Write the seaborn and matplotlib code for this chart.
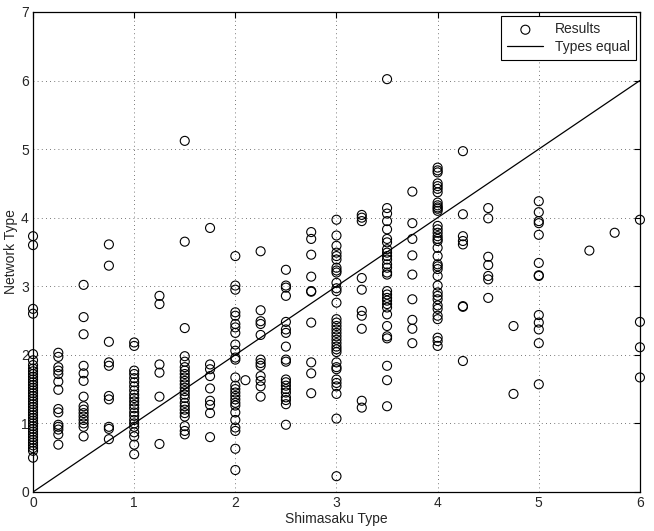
import pandas as pd
import matplotlib
matplotlib.use("Agg")
import matplotlib.pyplot as plt
import seaborn as sns

# Shimasaku type columns and network type values
y_at_000 = [3.73, 3.6, 2.67, 2.6, 2.01, 1.92, 1.85, 1.8, 1.76, 1.72, 1.68, 1.64, 1.6, 1.56,
            1.52, 1.48, 1.44, 1.4, 1.36, 1.32, 1.28, 1.24, 1.2, 1.16, 1.12, 1.08, 1.04, 1.0,
            0.96, 0.92, 0.88, 0.84, 0.8, 0.76, 0.72, 0.68, 0.64, 0.6, 0.5]
y_at_025 = [2.03, 1.97, 1.82, 1.77, 1.72, 1.61, 1.49, 1.21, 1.16, 0.98, 0.95, 0.91, 0.84, 0.69]
y_at_050 = [3.02, 2.55, 2.3, 1.84, 1.73, 1.62, 1.39, 1.25, 1.2, 1.15, 1.1, 1.05, 1.0, 0.95, 0.81]
y_at_075 = [3.61, 3.3, 2.19, 1.89, 1.84, 1.4, 1.35, 0.95, 0.92, 0.77]
y_at_100 = [2.18, 2.13, 1.77, 1.72, 1.66, 1.6, 1.54, 1.48, 1.42, 1.37, 1.32, 1.27, 1.22,
            1.16, 1.11, 1.05, 1.0, 0.95, 0.87, 0.81, 0.69, 0.55]
y_at_125 = [2.86, 2.74, 1.86, 1.74, 1.39, 0.70]
y_at_150 = [5.12, 3.65, 2.39, 1.98, 1.9, 1.82, 1.77, 1.72, 1.67, 1.62, 1.57, 1.52, 1.47,
            1.42, 1.37, 1.3, 1.25, 1.2, 1.15, 1.1, 0.96, 0.89, 0.84]
y_at_175 = [3.85, 1.86, 1.79, 1.69, 1.51, 1.33, 1.27, 1.15, 0.80]
y_at_200 = [3.44, 3.01, 2.95, 2.62, 2.57, 2.45, 2.4, 2.32, 2.15, 2.06, 1.96, 1.93, 1.67,
            1.55, 1.5, 1.45, 1.4, 1.35, 1.3, 1.26, 1.16, 1.05, 0.94, 0.89, 0.63, 0.32]
y_at_210 = [1.63]
y_at_225 = [3.51, 2.65, 2.49, 2.45, 2.29, 1.93, 1.88, 1.84, 1.69, 1.62, 1.54, 1.39]
y_at_250 = [3.24, 3.01, 2.98, 2.86, 2.48, 2.37, 2.32, 2.12, 1.93, 1.9, 1.64, 1.6, 1.55,
            1.5, 1.45, 1.38, 1.34, 1.28, 0.98]
y_at_275 = [3.79, 3.69, 3.46, 3.14, 2.93, 2.92, 2.47, 1.89, 1.73, 1.44]
y_at_300 = [3.97, 3.74, 3.59, 3.49, 3.44, 3.39, 3.27, 3.23, 3.2, 3.05, 2.97, 2.93, 2.76,
            2.52, 2.47, 2.42, 2.37, 2.32, 2.27, 2.22, 2.17, 2.12, 2.08, 2.04, 1.89, 1.82,
            1.79, 1.64, 1.59, 1.54, 1.43, 1.07, 0.23]
y_at_325 = [4.04, 4.0, 3.95, 3.12, 2.95, 2.64, 2.57, 2.38, 1.33, 1.23]
y_at_350 = [6.02, 4.14, 4.06, 3.95, 3.83, 3.69, 3.64, 3.54, 3.49, 3.44, 3.39, 3.32, 3.27,
            3.2, 3.17, 2.93, 2.88, 2.83, 2.79, 2.74, 2.69, 2.59, 2.42, 2.27, 2.24, 1.84,
            1.63, 1.25]
y_at_375 = [4.38, 3.92, 3.69, 3.45, 3.17, 2.81, 2.51, 2.38, 2.17]
y_at_400 = [4.73, 4.69, 4.66, 4.5, 4.46, 4.42, 4.37, 4.22, 4.18, 4.15, 4.13, 4.1, 3.88,
            3.83, 3.78, 3.73, 3.69, 3.66, 3.56, 3.44, 3.32, 3.29, 3.25, 3.15, 3.01, 2.91,
            2.86, 2.81, 2.72, 2.67, 2.57, 2.52, 2.25, 2.2, 2.13]
y_at_425 = [4.97, 4.05, 3.73, 3.66, 3.61, 2.71, 2.70, 1.91]
y_at_450 = [4.14, 3.99, 3.43, 3.31, 3.15, 3.10, 2.83]
y_at_475 = [2.42, 1.43]
y_at_500 = [4.24, 4.08, 3.95, 3.92, 3.75, 3.34, 3.16, 3.15, 2.58, 2.47, 2.37, 2.17, 1.57]
y_at_550 = [3.52]
y_at_575 = [3.78]
y_at_600 = [3.97, 2.48, 2.11, 1.67]

shimasaku = [0, 0.25, 0.5, 0.75, 1, 1.25, 1.5, 1.75, 2, 2.1, 2.25, 2.5, 2.75, 3, 3.25,
             3.5, 3.75, 4, 4.25, 4.5, 4.75, 5, 5.5, 5.75, 6]
network = [y_at_000, y_at_025, y_at_050, y_at_075, y_at_100, y_at_125, y_at_150, y_at_175,
           y_at_200, y_at_210, y_at_225, y_at_250, y_at_275, y_at_300, y_at_325, y_at_350,
           y_at_375, y_at_400, y_at_425, y_at_450, y_at_475, y_at_500, y_at_550, y_at_575,
           y_at_600]

equal_x = [0, 6]
equal_y = [0, 6]

rows = []
for sx, ys in zip(shimasaku, network):
    for ny in ys:
        rows.append({"Shimasaku Type": sx, "Network Type": ny})
df = pd.DataFrame(rows)

sns.set_style("white")
plt.rcParams["font.family"] = ["Liberation Sans", "DejaVu Sans"]

fig = plt.figure(figsize=(6.54, 5.31), dpi=100)
ax = fig.add_axes([0.0505, 0.0735, 0.928, 0.904])

sns.scatterplot(data=df, x="Shimasaku Type", y="Network Type", ax=ax,
                marker="o", s=42, facecolors="none", edgecolor="black",
                linewidth=0.8, label="Results", clip_on=False, zorder=3)
sns.lineplot(x=equal_x, y=equal_y, ax=ax, color="black", linewidth=0.9,
             label="Types equal")

ax.set_xlim(0, 6)
ax.set_ylim(0, 7)
ax.set_xticks(range(0, 7))
ax.set_yticks(range(0, 8))
ax.grid(True, linestyle=(0, (1, 4)), color="black", linewidth=0.6, alpha=0.7)
ax.tick_params(direction="in", top=True, right=True, length=4, width=0.8,
               labelsize=10, pad=3, color="black")
for sp in ax.spines.values():
    sp.set_color("black")
    sp.set_linewidth(0.9)
ax.set_xlabel("Shimasaku Type", fontsize=10, labelpad=1)
ax.set_ylabel("Network Type", fontsize=10, labelpad=2)

leg = ax.legend(loc="upper right", fontsize=10, frameon=True, fancybox=False,
                edgecolor="black", borderaxespad=0.3, handlelength=2.6,
                borderpad=0.45, labelspacing=0.25, framealpha=1)
leg.get_frame().set_linewidth(0.8)
leg.set_zorder(5)

fig.savefig("out.png", dpi=100)
